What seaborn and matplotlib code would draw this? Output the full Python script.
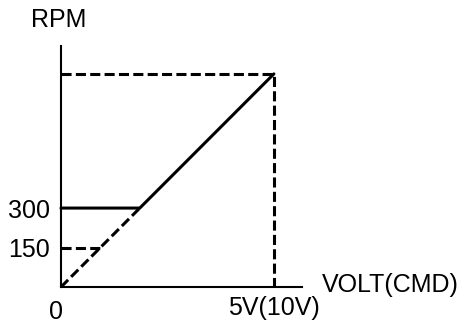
import matplotlib
matplotlib.use("Agg")
import matplotlib.pyplot as plt
import seaborn as sns
import pandas as pd

sns.set_style("white")
plt.rcParams["font.family"] = ["Liberation Sans", "DejaVu Sans"]
plt.rcParams["text.color"] = "black"
plt.rcParams["ytick.color"] = "black"
plt.rcParams["xtick.color"] = "black"

# Speed-command characteristic (RPM vs command voltage)
max_volt = 5.0
max_rpm = 810
min_speed_solid = 300
min_speed_dashed = 150
knee_solid = 1.85
knee_dashed = 0.93

solid_x = [0, knee_solid, max_volt]
solid_y = [min_speed_solid, min_speed_solid, max_rpm]

diag_x = [0, knee_solid]
diag_y = [0, min_speed_solid]

low_x = [0, knee_dashed]
low_y = [min_speed_dashed, min_speed_dashed]

guide_x = [0, max_volt, max_volt]
guide_y = [max_rpm, max_rpm, 0]

tick_values = [150, 300]
tick_labels = ["150", "300"]

fig = plt.figure(figsize=(4.68, 3.24), dpi=100)
ax = fig.add_axes([61 / 468, 37 / 324, 241 / 468, 241 / 324])
ax.set_xlim(0, 5.66)
ax.set_ylim(0, 916)

dash = (3.3, 1.4)
lw = 2.2

sns.lineplot(x=solid_x, y=solid_y, ax=ax, color="black", lw=lw,
             sort=False, estimator=None)
for xs, ys in [(diag_x, diag_y), (low_x, low_y), (guide_x, guide_y)]:
    sns.lineplot(x=xs, y=ys, ax=ax, color="black", lw=lw, sort=False,
                 estimator=None, dashes=False, linestyle=(0, dash))
for line in ax.lines:
    line.set_clip_on(False)

for s in ["top", "right"]:
    ax.spines[s].set_visible(False)
for s in ["left", "bottom"]:
    ax.spines[s].set_color("black")
    ax.spines[s].set_linewidth(1.5)

ax.set_xticks([])
ax.set_yticks(tick_values)
ax.set_yticklabels(tick_labels)
ax.tick_params(axis="y", length=0, pad=8, labelsize=18, labelcolor="black")

fs = 18
ax.annotate("RPM", xy=(0, 916), xycoords="data", xytext=(-2, 19),
            textcoords="offset points", ha="center", va="center", fontsize=fs)
ax.annotate("0", xy=(0, 0), xycoords="data", xytext=(-3.5, -18),
            textcoords="offset points", ha="center", va="center", fontsize=fs)
ax.annotate("5V(10V)", xy=(max_volt, 0), xycoords="data", xytext=(0, -15),
            textcoords="offset points", ha="center", va="center", fontsize=fs)
ax.annotate("VOLT(CMD)", xy=(5.66, 0), xycoords="data", xytext=(14, 1.5),
            textcoords="offset points", ha="left", va="center", fontsize=fs)

fig.savefig("out.png", dpi=100)
